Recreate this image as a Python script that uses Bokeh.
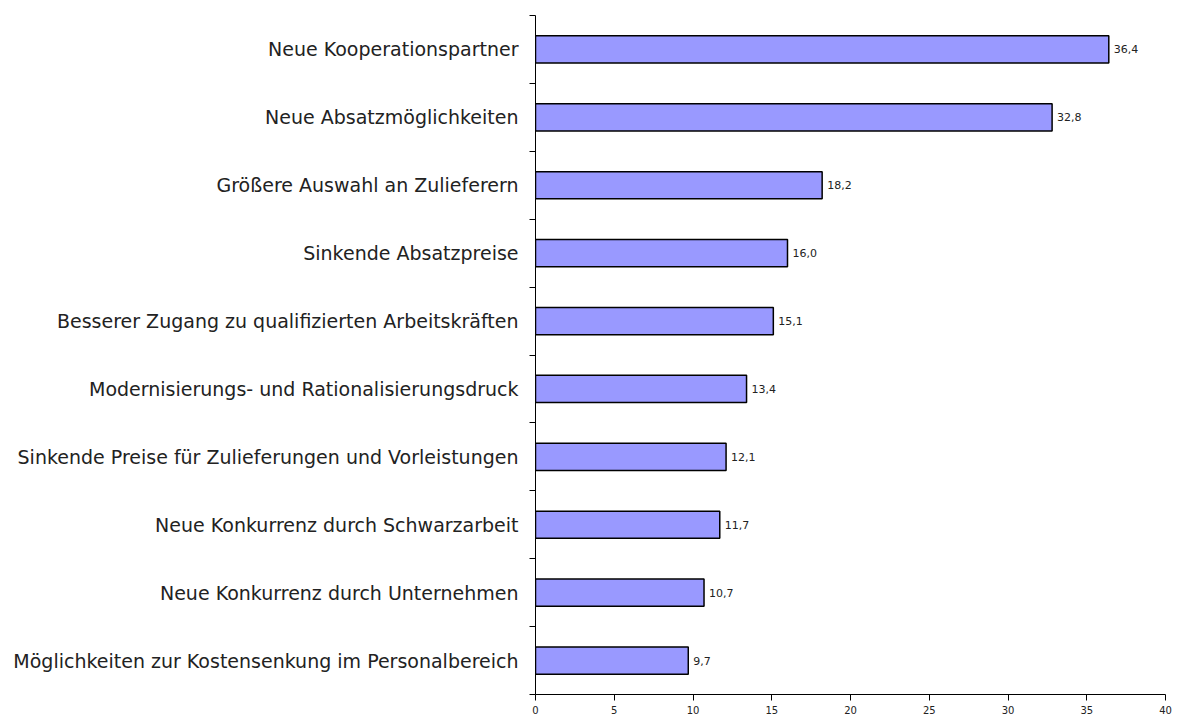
from bokeh.plotting import figure
from bokeh.models import ColumnDataSource, FixedTicker, Range1d
from bokeh.core.properties import value
from bokeh.embed import file_html
from bokeh.resources import INLINE

categories = [
    "Neue Kooperationspartner",
    "Neue Absatzmöglichkeiten",
    "Größere Auswahl an Zulieferern",
    "Sinkende Absatzpreise",
    "Besserer Zugang zu qualifizierten Arbeitskräften",
    "Modernisierungs- und Rationalisierungsdruck",
    "Sinkende Preise für Zulieferungen und Vorleistungen",
    "Neue Konkurrenz durch Schwarzarbeit",
    "Neue Konkurrenz durch Unternehmen",
    "Möglichkeiten zur Kostensenkung im Personalbereich",
]
values = [36.4, 32.8, 18.2, 16.0, 15.1, 13.4, 12.1, 11.7, 10.7, 9.7]
x_ticks = [0, 5, 10, 15, 20, 25, 30, 35, 40]

n = len(categories)
ypos = [n - i - 0.5 for i in range(n)]
labels = [f"{v:.1f}".replace(".", ",") for v in values]

src = ColumnDataSource(dict(y=ypos, v=values, lab=labels))

FONT = "DejaVu Sans"

p = figure(width=1179, height=720, output_backend="svg", toolbar_location=None,
           x_range=Range1d(0, 40), y_range=Range1d(0, n),
           min_border_left=535, min_border_right=14, min_border_top=15,
           min_border_bottom=26)
p.outline_line_color = None
p.grid.visible = False

p.hbar(y="y", right="v", left=0, height=0.4, source=src,
       fill_color="#9999FF", line_color="black", line_width=1.5)

p.text(x="v", y="y", text="lab", source=src, x_offset=5,
       text_baseline="middle", text_align="left", text_font_size="11px",
       text_color="#222222", text_font=value(FONT))

# y axis
p.yaxis.ticker = FixedTicker(ticks=ypos, minor_ticks=list(range(n + 1)))
p.yaxis.major_label_overrides = {y: c for y, c in zip(ypos, categories)}
p.yaxis.major_tick_out = 0
p.yaxis.major_tick_in = 0
p.yaxis.minor_tick_out = 6
p.yaxis.minor_tick_in = 0
p.yaxis.minor_tick_line_color = "black"
p.yaxis.axis_line_color = "black"
p.yaxis.major_label_text_font = FONT
p.yaxis.major_label_text_font_size = "19px"
p.yaxis.major_label_text_color = "#222222"
p.yaxis.major_label_standoff = 11

# x axis
p.xaxis.ticker = FixedTicker(ticks=x_ticks)
p.xaxis.major_tick_out = 6
p.xaxis.major_tick_in = 0
p.xaxis.minor_tick_out = 0
p.xaxis.minor_tick_in = 0
p.xaxis.axis_line_color = "black"
p.xaxis.major_tick_line_color = "black"
p.xaxis.major_label_text_font = FONT
p.xaxis.major_label_text_font_size = "10px"
p.xaxis.major_label_text_color = "#222222"
p.xaxis.major_label_standoff = 5

open("out.html", "w").write(file_html(p, INLINE))
